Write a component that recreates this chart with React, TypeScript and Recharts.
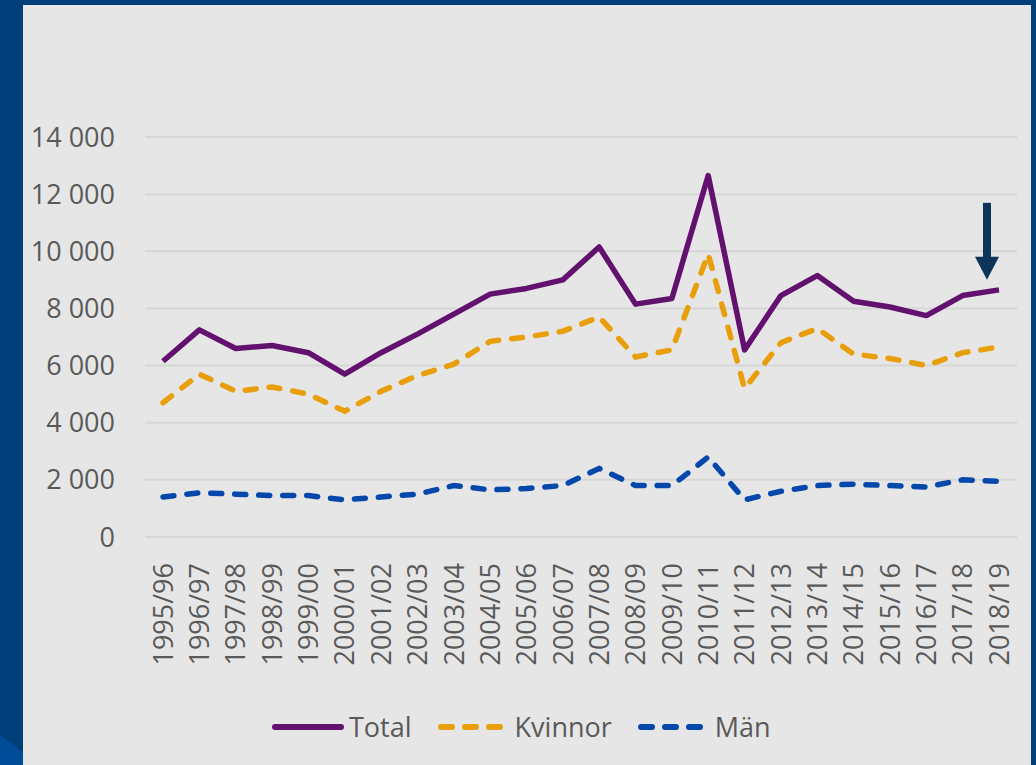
import { LineChart, Line, XAxis, YAxis, CartesianGrid, ReferenceDot } from 'recharts';

const seasons = [
  '1995/96', '1996/97', '1997/98', '1998/99', '1999/00', '2000/01', '2001/02', '2002/03',
  '2003/04', '2004/05', '2005/06', '2006/07', '2007/08', '2008/09', '2009/10', '2010/11',
  '2011/12', '2012/13', '2013/14', '2014/15', '2015/16', '2016/17', '2017/18', '2018/19',
];
const total = [
  6150, 7250, 6600, 6700, 6450, 5700, 6450, 7100, 7800, 8500, 8700, 9000,
  10150, 8150, 8350, 12650, 6550, 8450, 9150, 8250, 8050, 7750, 8450, 8650,
];
const kvinnor = [
  4700, 5700, 5100, 5250, 5000, 4400, 5100, 5650, 6050, 6850, 7000, 7200,
  7700, 6300, 6550, 9900, 5200, 6800, 7300, 6400, 6250, 6000, 6450, 6650,
];
const man = [
  1400, 1550, 1500, 1450, 1450, 1300, 1400, 1500, 1800, 1650, 1700, 1800,
  2400, 1800, 1800, 2800, 1300, 1600, 1800, 1850, 1800, 1750, 2000, 1950,
];
const yTicks = [0, 2000, 4000, 6000, 8000, 10000, 12000, 14000];

const data = seasons.map((s, i) => ({ season: s, total: total[i], kvinnor: kvinnor[i], man: man[i] }));

const FONT = '"Open Sans", sans-serif';
const TEXT = '#595959';
const PURPLE = '#63116f';
const ORANGE = '#e89f0b';
const BLUE = '#0548ac';

const fmt = (v: number) => v.toLocaleString('en-US').replace(/,/g, ' ');

const XTick = ({ x, y, payload }: any) => (
  <text
    x={x}
    y={y}
    transform={`rotate(-90, ${x}, ${y})`}
    textAnchor="end"
    dy="0.36em"
    fill={TEXT}
    fontSize={27}
    fontFamily={FONT}
  >
    {payload.value}
  </text>
);

// arrow pointing at the last season
const Arrow = ({ cx, cy }: any) => {
  if (cx == null || cy == null) return null;
  const x = cx - 12;
  return (
    <g>
      <rect x={x - 4} y={cy - 77} width={8} height={56} fill="#0c3559" />
      <polygon points={`${x - 12},${cy - 23} ${x + 12},${cy - 23} ${x},${cy}`} fill="#0c3559" />
    </g>
  );
};

const LegendItem = ({ color, dashed, label }: { color: string; dashed: boolean; label: string }) => (
  <div style={{ display: 'flex', alignItems: 'center', marginRight: 26 }}>
    <svg width={72} height={10} style={{ marginRight: 5 }}>
      <line
        x1={3}
        y1={5}
        x2={69}
        y2={5}
        stroke={color}
        strokeWidth={6}
        strokeLinecap="round"
        strokeDasharray={dashed ? '11 13' : undefined}
      />
    </svg>
    <span style={{ fontFamily: FONT, fontSize: 27, color: TEXT }}>{label}</span>
  </div>
);

export default function App() {
  return (
    <div style={{ position: 'absolute', left: 0, top: 0, width: 1036, height: 765, background: '#003f7a', overflow: 'hidden' }}>
      <div
        style={{
          position: 'absolute', left: 0, top: 690, width: 30, height: 75, background: '#004c98',
          clipPath: 'polygon(0 60%, 100% 90%, 100% 100%, 0 100%)',
        }}
      />
      <div style={{ position: 'absolute', left: 23, top: 5, width: 1008, height: 760, background: '#e6e6e6' }}>
        <LineChart width={1008} height={760} data={data} margin={{ top: 132, right: 14, bottom: 88, left: 0 }}>
          <CartesianGrid vertical={false} stroke="#d6d6d6" strokeWidth={2} />
          <XAxis
            dataKey="season"
            interval={0}
            height={140}
            padding={{ left: 18, right: 18 }}
            axisLine={false}
            tickLine={false}
            tickSize={0}
            tickMargin={26}
            tick={<XTick />}
          />
          <YAxis
            width={122}
            domain={[0, 14000]}
            ticks={yTicks}
            tickFormatter={fmt}
            axisLine={false}
            tickLine={false}
            tickSize={0}
            tickMargin={30}
            tick={{ fill: TEXT, fontSize: 27, fontFamily: FONT }}
          />
          <Line dataKey="total" stroke={PURPLE} strokeWidth={5.5} dot={false} isAnimationActive={false} strokeLinejoin="round" />
          <Line dataKey="kvinnor" stroke={ORANGE} strokeWidth={5.5} strokeDasharray="11 13" strokeLinecap="round" dot={false} isAnimationActive={false} />
          <Line dataKey="man" stroke={BLUE} strokeWidth={5.5} strokeDasharray="11 13" strokeLinecap="round" dot={false} isAnimationActive={false} />
          <ReferenceDot x="2018/19" y={9000} shape={<Arrow />} />
        </LineChart>
        <div style={{ position: 'absolute', left: 249, top: 703, display: 'flex', alignItems: 'center' }}>
          <LegendItem color={PURPLE} dashed={false} label="Total" />
          <LegendItem color={ORANGE} dashed label="Kvinnor" />
          <LegendItem color={BLUE} dashed label="Män" />
        </div>
      </div>
    </div>
  );
}
